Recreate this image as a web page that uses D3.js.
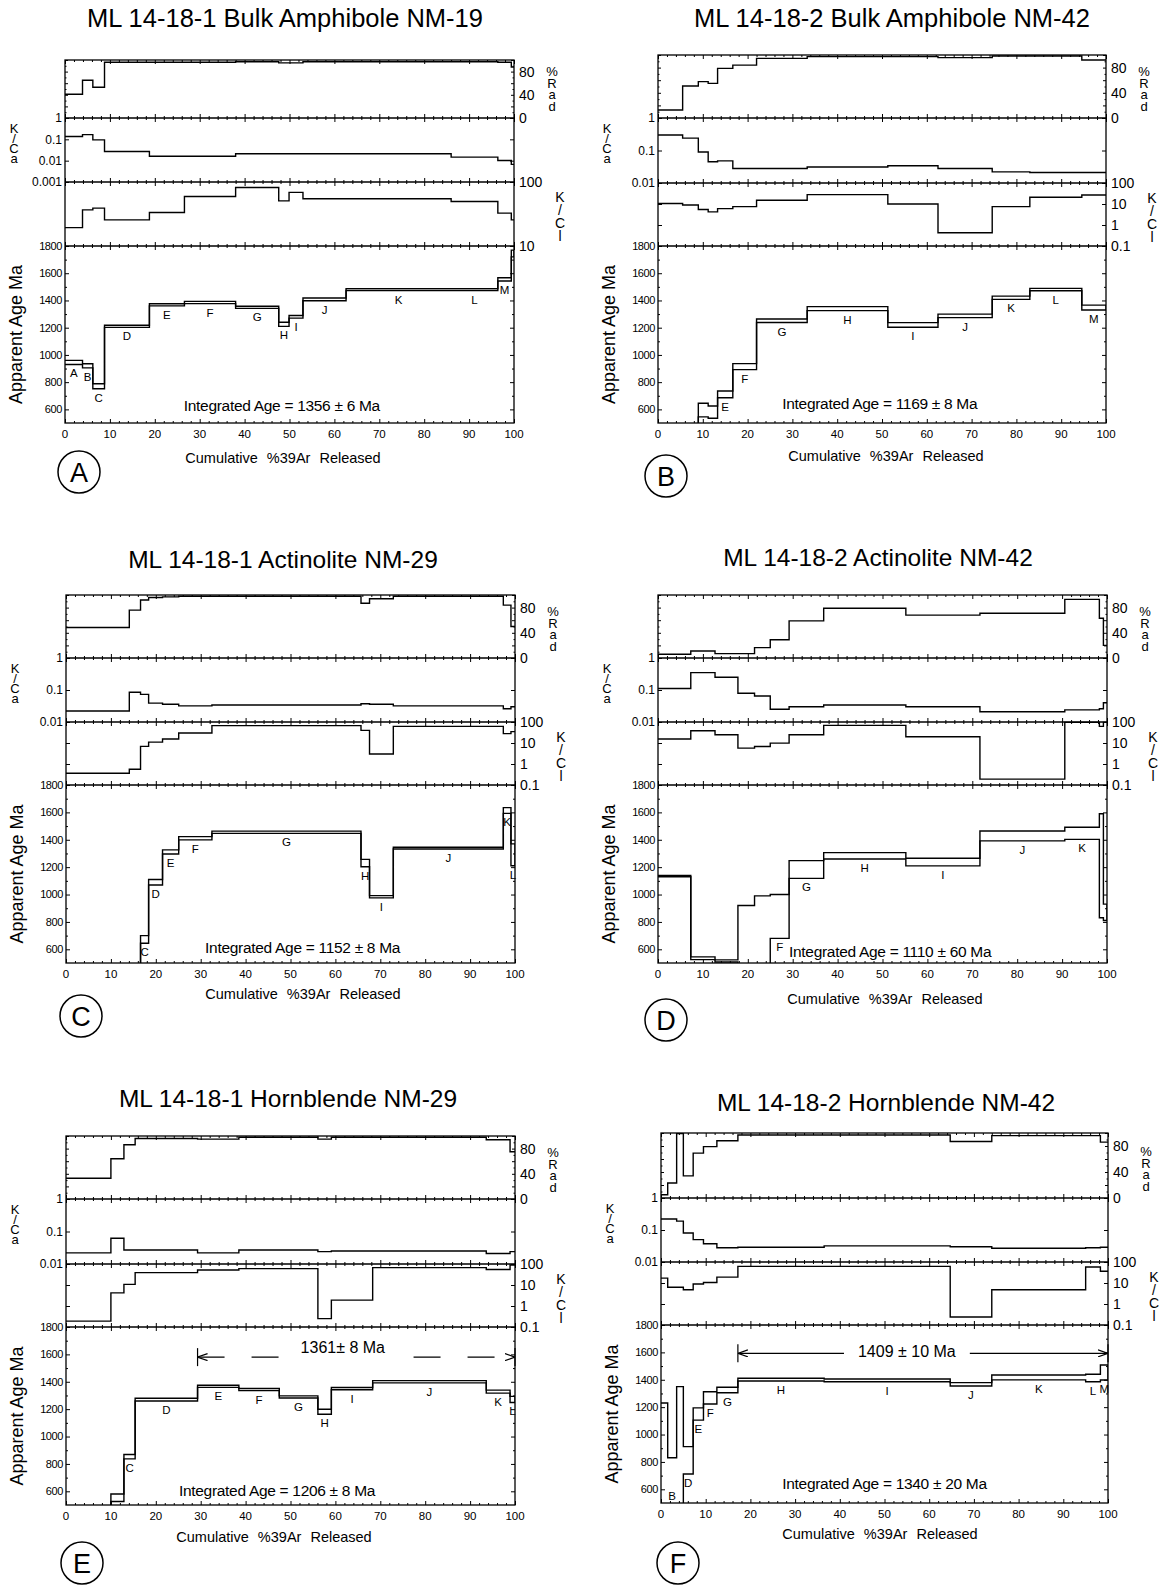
<!DOCTYPE html>
<html>
<head>
<meta charset="utf-8">
<style>
  body { margin: 0; background: #fff; }
  svg { display: block; font-family: "Liberation Sans", Arial, sans-serif; }
  .frame { fill: none; stroke: #000; stroke-width: 1.3; }
  .step { fill: none; stroke: #000; stroke-width: 1.4; }
  .tk line { stroke: #000; stroke-width: 1; }
  .vert { writing-mode: vertical-rl; text-orientation: upright; }
</style>
</head>
<body>
<svg id="chart" width="1169" height="1591"></svg>
<script src="https://d3js.org/d3.v7.min.js"></script>
<script>
// ---- data ----
// cum* = cumulative %39Ar step boundaries, one value per step for the rest

// A: ML 14-18-1 bulk amphibole
var cumA = [0, 3.9, 6.2, 8.8, 18.8, 26.6, 38.0, 47.6, 49.9, 53.0, 62.6, 86.0, 96.4, 99.4, 100];
var radA = [41, 65, 53, 96, 96, 96, 97, 95, 95, 97, 97, 97, 96, 88];
var kcaA = [0.135, 0.167, 0.094, 0.027, 0.016, 0.016, 0.021, 0.021, 0.021, 0.021, 0.021, 0.0147, 0.0101, 0.0067];
var kclA = [19.4, 36.7, 39, 25.6, 33.4, 59.5, 82, 50.8, 68.8, 54.8, 54.8, 49.7, 32.6, 25.6];
var ageA = [945, 920, 770, 1210, 1368, 1385, 1350, 1225, 1280, 1408, 1480, 1480, 1555, 1745];
var errA = [15, 15, 18, 8, 8, 8, 8, 15, 10, 10, 7, 7, 12, 25];
var letA = ["A", "B", "C", "D", "E", "F", "G", "H", "I", "J", "K", "L", "M", ""];

// B: ML 14-18-2 bulk amphibole
var cumB = [0, 5.5, 9.0, 11.2, 13.3, 16.7, 22.0, 33.3, 51.3, 62.5, 74.6, 83.0, 94.6, 100];
var radB = [12.7, 50.8, 57.7, 55, 78.8, 84, 94.7, 97.4, 97.4, 95.8, 98.4, 98.4, 92];
var kcaB = [0.30, 0.24, 0.09, 0.045, 0.048, 0.028, 0.028, 0.031, 0.034, 0.028, 0.022, 0.021, 0.021];
var kclB = [10.5, 9, 5.5, 4.2, 6.0, 7.5, 15, 28, 10, 0.43, 7.5, 21, 27];
var ageB = [400, 450, 595, 580, 710, 914, 1251, 1340, 1220, 1287, 1420, 1480, 1348];
var errB = [30, 30, 50, 45, 25, 22, 13, 15, 17, 13, 12, 9, 18];
var letB = ["", "", "", "", "E", "F", "G", "H", "I", "J", "K", "L", "M"];

// C: ML 14-18-1 actinolite
var cumC = [0, 14.1, 16.6, 18.4, 21.5, 25.1, 32.5, 65.7, 67.6, 72.9, 97.4, 99.1, 100];
var radC = [48.4, 76, 92, 96, 97, 98, 98, 87, 94, 98, 84, 50];
var kcaC = [0.022, 0.085, 0.073, 0.039, 0.036, 0.032, 0.034, 0.037, 0.036, 0.032, 0.026, 0.03];
var kclC = [0.36, 0.56, 6.9, 11, 15.4, 30, 67, 40, 3.0, 62, 28, 35];
var ageC = [380, 430, 672, 1090, 1311, 1411, 1455, 1230, 984, 1339, 1614, 1290];
var errC = [30, 30, 28, 20, 15, 12, 8, 27, 8, 6, 21, 80];
var letC = ["", "", "C", "D", "E", "F", "G", "H", "I", "J", "K", "L"];

// D: ML 14-18-2 actinolite
var cumD = [0, 7.3, 12.7, 17.8, 21.5, 25.0, 29.2, 36.9, 55.2, 71.7, 90.6, 98.3, 99.2, 100];
var radD = [5.9, 11.2, 7, 7, 16.5, 29, 59, 79, 68, 71, 93, 63, 20];
var kcaD = [0.112, 0.35, 0.25, 0.079, 0.065, 0.025, 0.030, 0.034, 0.030, 0.021, 0.024, 0.026, 0.040];
var kclD = [15.4, 38.5, 24.7, 5.7, 6.8, 9.9, 24.7, 69, 20, 0.19, 96, 62, 96];
var ageD = [1135, 535, 515, 600, 600, 840, 1183, 1283, 1237, 1428, 1447, 1210, 870];
var errD = [5, 10, 8, 320, 390, 160, 65, 23, 28, 36, 44, 380, 60];
var letD = ["", "", "", "", "", "F", "G", "H", "I", "J", "K", "", ""];

// E: ML 14-18-1 hornblende
var cumE = [0, 10.0, 12.9, 15.4, 29.3, 38.5, 47.5, 56.1, 59.1, 68.3, 93.6, 98.9, 100];
var radE = [33, 64, 86, 96, 95, 98, 98, 95, 98, 98, 94, 75];
var kcaE = [0.022, 0.062, 0.027, 0.027, 0.022, 0.027, 0.027, 0.024, 0.025, 0.025, 0.021, 0.024];
var kclE = [0.19, 4.2, 10.7, 38.7, 52, 60, 60, 0.25, 1.9, 67, 55, 90];
var ageE = [400, 553, 853, 1270, 1367, 1343, 1289, 1181, 1350, 1400, 1328, 1271];
var errE = [30, 27, 16, 10, 8, 8, 8, 18, 8, 8, 11, 22];
var letE = ["", "", "C", "D", "E", "F", "G", "H", "I", "J", "K", "L"];

// F: ML 14-18-2 hornblende
var cumF = [0, 1.5, 3.5, 5.0, 7.2, 9.5, 12.5, 17.2, 36.5, 64.7, 74.0, 95.0, 98.3, 100];
var radF = [5, 23, 99, 34, 69, 79, 88, 97, 97, 87, 96, 96, 86];
var kcaF = [0.22, 0.22, 0.19, 0.081, 0.05, 0.037, 0.028, 0.029, 0.032, 0.030, 0.027, 0.028, 0.029];
var kclF = [17, 6.3, 6.3, 4.8, 8.9, 10.6, 19, 62, 62, 0.24, 4.8, 58, 36];
var ageF = [700, 500, 800, 812, 1150, 1268, 1325, 1401, 1396, 1367, 1417, 1413, 1453];
var errF = [530, 330, 550, 100, 45, 45, 20, 10, 10, 12, 18, 27, 55];
var letF = ["", "B", "", "D", "E", "F", "G", "H", "I", "J", "K", "L", "M"];

// tick labels
var xTicks = [0, 10, 20, 30, 40, 50, 60, 70, 80, 90, 100];
var ageTicks = [1800, 1600, 1400, 1200, 1000, 800, 600];
var radTicks = [80, 40, 0];
var kcaTicks3 = [1, 0.1, 0.01, 0.001];
var kcaTicks2 = [1, 0.1, 0.01];
var kclTicks1 = [100, 10];
var kclTicks3 = [100, 10, 1, 0.1];

var titles = ["ML 14-18-1 Bulk Amphibole NM-19", "ML 14-18-2 Bulk Amphibole NM-42",
              "ML 14-18-1 Actinolite NM-29", "ML 14-18-2 Actinolite NM-42",
              "ML 14-18-1 Hornblende NM-29", "ML 14-18-2 Hornblende NM-42"];
var integrated = ["Integrated Age = 1356 \u00b1 6 Ma", "Integrated Age = 1169 \u00b1 8 Ma",
                  "Integrated Age = 1152 \u00b1 8 Ma", "Integrated Age = 1110 \u00b1 60 Ma",
                  "Integrated Age = 1206 \u00b1 8 Ma", "Integrated Age = 1340 \u00b1 20 Ma"];
// where the integrated-age note sits, in data units [%39Ar, Ma]
var integratedAt = [[48.3, 626], [49.5, 646], [52.7, 610], [51.7, 583], [47, 605], [50, 640]];
// plateau ages: [panel, from %, to %, age level, label]
var plateaus = [["E", 29.3, 100, 1580, "1361\u00b1 8 Ma"], ["F", 17.2, 100, 1593, "1409 \u00b1 10 Ma"]];

var panels = [
  {id: "A", cum: cumA, rad: radA, kca: kcaA, kcl: kclA, age: ageA, err: errA, lab: letA, kcaT: kcaTicks3, kclT: kclTicks1},
  {id: "B", cum: cumB, rad: radB, kca: kcaB, kcl: kclB, age: ageB, err: errB, lab: letB, kcaT: kcaTicks2, kclT: kclTicks3},
  {id: "C", cum: cumC, rad: radC, kca: kcaC, kcl: kclC, age: ageC, err: errC, lab: letC, kcaT: kcaTicks2, kclT: kclTicks3},
  {id: "D", cum: cumD, rad: radD, kca: kcaD, kcl: kclD, age: ageD, err: errD, lab: letD, kcaT: kcaTicks2, kclT: kclTicks3},
  {id: "E", cum: cumE, rad: radE, kca: kcaE, kcl: kclE, age: ageE, err: errE, lab: letE, kcaT: kcaTicks2, kclT: kclTicks3},
  {id: "F", cum: cumF, rad: radF, kca: kcaF, kcl: kclF, age: ageF, err: errF, lab: letF, kcaT: kcaTicks2, kclT: kclTicks3}
];

// page geometry for each panel
var layout = {
  A: {x0: 65, x1: 514, rad: 60, kca: 118, kcl: 182, age: 246, bot: 423, tx: 285, ty: 27, fs: 25.5, lx: 283, ly: 458, cx: 79, cy: 472},
  B: {x0: 658, x1: 1106, rad: 55, kca: 118, kcl: 183, age: 246, bot: 423, tx: 892, ty: 27, fs: 25.5, lx: 886, ly: 456, cx: 666, cy: 476},
  C: {x0: 66, x1: 515, rad: 595, kca: 658, kcl: 722, age: 785, bot: 963, tx: 283, ty: 568, fs: 24.5, lx: 303, ly: 994, cx: 81, cy: 1016},
  D: {x0: 658, x1: 1107, rad: 595, kca: 658, kcl: 722, age: 785, bot: 963, tx: 878, ty: 566, fs: 24.5, lx: 885, ly: 999, cx: 666, cy: 1020},
  E: {x0: 66, x1: 515, rad: 1136, kca: 1199, kcl: 1264, age: 1327, bot: 1505, tx: 288, ty: 1107, fs: 24.5, lx: 274, ly: 1537, cx: 82, cy: 1563},
  F: {x0: 661, x1: 1108, rad: 1133, kca: 1198, kcl: 1262, age: 1325, bot: 1503, tx: 886, ty: 1111, fs: 24.5, lx: 880, ly: 1534, cx: 678, cy: 1563}
};

var svg = d3.select("#chart");
var defs = svg.append("defs");
defs.append("marker").attr("id", "arrow")
    .attr("viewBox", "0 -4 10 8").attr("refX", 10).attr("refY", 0)
    .attr("markerWidth", 10).attr("markerHeight", 8)
    .attr("markerUnits", "userSpaceOnUse").attr("orient", "auto-start-reverse")
  .append("path").attr("d", "M0,-3.5L10,0L0,3.5").attr("fill", "none").attr("stroke", "#000").attr("stroke-width", 1.2);

function stepPts(cum, vals) {
  var pts = vals.map(function(v, i) { return [cum[i], v]; });
  pts.push([cum[cum.length - 1], vals[vals.length - 1]]);
  return pts;
}

function clipRect(id, x0, y0, x1, y1) {
  defs.append("clipPath").attr("id", id).append("rect")
      .attr("x", x0).attr("y", y0).attr("width", x1 - x0).attr("height", y1 - y0);
  return "url(#" + id + ")";
}

// small inward ticks on the top and bottom edge of a strip
function xEdgeTicks(g, x, yTop, yBot) {
  var minor = d3.range(0, 101, 2).filter(function(v) { return v % 10 !== 0; });
  [[yTop, d3.axisTop], [yBot, d3.axisBottom]].forEach(function(e) {
    g.append("g").attr("class", "tk").attr("transform", "translate(0," + e[0] + ")")
        .call(e[1](x).tickValues(xTicks).tickSize(-4).tickFormat(""))
        .call(function(s) { s.select(".domain").remove(); s.selectAll("text").remove(); });
    g.append("g").attr("class", "tk").attr("transform", "translate(0," + e[0] + ")")
        .call(e[1](x).tickValues(minor).tickSize(-2).tickFormat(""))
        .call(function(s) { s.select(".domain").remove(); s.selectAll("text").remove(); });
  });
}

function yEdgeTicks(g, y, vals, size, x0, x1) {
  g.append("g").attr("class", "tk").attr("transform", "translate(" + x0 + ",0)")
      .call(d3.axisLeft(y).tickValues(vals).tickSize(-size).tickFormat(""))
      .call(function(s) { s.select(".domain").remove(); s.selectAll("text").remove(); });
  g.append("g").attr("class", "tk").attr("transform", "translate(" + x1 + ",0)")
      .call(d3.axisRight(y).tickValues(vals).tickSize(-size).tickFormat(""))
      .call(function(s) { s.select(".domain").remove(); s.selectAll("text").remove(); });
}

// a word written one letter under the other
function stacked(g, word, x, y0, size, spacing) {
  g.append("text").attr("class", "vert").attr("x", x).attr("y", y0)
      .attr("font-size", size).attr("letter-spacing", spacing).text(word);
}

panels.forEach(function(p, k) {
  var L = layout[p.id];
  var g = svg.append("g");

  var x = d3.scaleLinear().domain([0, 100]).range([L.x0, L.x1]);
  var yRad = d3.scaleLinear().domain([0, 100]).range([L.kca, L.rad]);
  var yKca = d3.scaleLog().domain([p.kcaT[p.kcaT.length - 1], 1]).range([L.kcl, L.kca]);
  var yKcl = d3.scaleLog().domain([p.kclT[p.kclT.length - 1], 100]).range([L.age, L.kcl]);
  var yAge = d3.scaleLinear().domain([500, 1800]).range([L.bot, L.age]);

  // frame and strip separators
  g.append("rect").attr("class", "frame")
      .attr("x", L.x0).attr("y", L.rad).attr("width", L.x1 - L.x0).attr("height", L.bot - L.rad);
  [L.kca, L.kcl, L.age].forEach(function(yy) {
    g.append("line").attr("class", "frame").attr("x1", L.x0).attr("x2", L.x1).attr("y1", yy).attr("y2", yy);
  });

  // ticks
  [[L.rad, L.kca], [L.kca, L.kcl], [L.kcl, L.age], [L.age, L.bot]].forEach(function(s) {
    xEdgeTicks(g, x, s[0], s[1]);
  });
  yEdgeTicks(g, yRad, d3.range(0, 101, 20), 3, L.x0, L.x1);
  yEdgeTicks(g, yRad, d3.range(10, 100, 20), 1.5, L.x0, L.x1);
  yEdgeTicks(g, yKca, p.kcaT, 4, L.x0, L.x1);
  yEdgeTicks(g, yKcl, p.kclT, 4, L.x0, L.x1);
  yEdgeTicks(g, yAge, ageTicks, 4, L.x0, L.x1);
  yEdgeTicks(g, yAge, [1700, 1500, 1300, 1100, 900, 700], 2, L.x0, L.x1);

  // step curves for %Rad, K/Ca, K/Cl
  var strips = [[p.rad, yRad, L.rad, L.kca], [p.kca, yKca, L.kca, L.kcl], [p.kcl, yKcl, L.kcl, L.age]];
  strips.forEach(function(s, j) {
    var line = d3.line().x(function(d) { return x(d[0]); }).y(function(d) { return s[1](d[1]); })
        .curve(d3.curveStepAfter);
    g.append("path").attr("class", "step")
        .attr("clip-path", clipRect("c" + p.id + j, L.x0, s[2] - 1, L.x1, s[3] + 1))
        .attr("d", line(stepPts(p.cum, s[0])));
  });

  // age spectrum: upper and lower envelope of each step
  var ageLine = d3.line().x(function(d) { return x(d[0]); }).y(function(d) { return yAge(d[1]); })
      .curve(d3.curveStepAfter);
  var hi = p.age.map(function(a, i) { return a + p.err[i]; });
  var lo = p.age.map(function(a, i) { return a - p.err[i]; });
  var ag = g.append("g").attr("clip-path", clipRect("c" + p.id + "age", L.x0, L.age, L.x1, L.bot));
  ag.append("path").attr("class", "step").attr("d", ageLine(stepPts(p.cum, hi)));
  ag.append("path").attr("class", "step").attr("d", ageLine(stepPts(p.cum, lo)));
  var n = p.age.length;
  ag.append("line").attr("class", "step")
      .attr("x1", x(p.cum[n])).attr("x2", x(p.cum[n]))
      .attr("y1", yAge(hi[n - 1])).attr("y2", yAge(lo[n - 1]));

  // step letters
  p.lab.forEach(function(ch, i) {
    if (!ch) return;
    var yy = Math.min(yAge(lo[i]) + 9, L.bot - 7);
    g.append("text").attr("x", x((p.cum[i] + p.cum[i + 1]) / 2)).attr("y", yy)
        .attr("dy", "0.35em").attr("text-anchor", "middle").attr("font-size", 11.5).text(ch);
  });

  // integrated age
  g.append("text").attr("x", x(integratedAt[k][0])).attr("y", yAge(integratedAt[k][1]))
      .attr("dy", "0.35em").attr("text-anchor", "middle").attr("font-size", 15.5)
      .attr("letter-spacing", -0.3).text(integrated[k]);

  // plateau
  plateaus.filter(function(pl) { return pl[0] === p.id; }).forEach(function(pl) {
    var yl = yAge(pl[3]);
    var dashed = p.id === "E";
    var pg = g.append("g");
    pg.append("line").attr("stroke", "#000").attr("stroke-width", 1.2)
        .attr("stroke-dasharray", dashed ? "27,27" : null)
        .attr("x1", x(pl[1])).attr("x2", x(pl[2])).attr("y1", yl).attr("y2", yl)
        .attr("marker-start", "url(#arrow)").attr("marker-end", "url(#arrow)");
    [pl[1], pl[2]].forEach(function(v) {
      pg.append("line").attr("stroke", "#000").attr("stroke-width", 1.2)
          .attr("x1", x(v)).attr("x2", x(v)).attr("y1", yl - 9).attr("y2", yl + 9);
    });
    var mid = (pl[1] + pl[2]) / 2 + (dashed ? -3 : -3.6);
    var mask = pg.append("rect").attr("fill", "#fff");
    var t = pg.append("text").attr("x", x(mid)).attr("y", yl - (dashed ? 10 : 2))
        .attr("dy", "0.35em").attr("text-anchor", "middle").attr("font-size", 16).text(pl[4]);
    var bb = t.node().getBBox();
    mask.attr("x", bb.x - 14).attr("y", yl - 2).attr("width", bb.width + 28).attr("height", 4);
  });

  // tick labels
  g.selectAll(".xl").data(xTicks).enter().append("text")
      .attr("x", function(d) { return x(d); }).attr("y", L.bot + 11).attr("dy", "0.35em")
      .attr("text-anchor", "middle").attr("font-size", 11.5).text(function(d) { return d; });
  g.selectAll(".al").data(ageTicks).enter().append("text")
      .attr("x", L.x0 - 3).attr("y", function(d) { return yAge(d); }).attr("dy", "0.35em")
      .attr("text-anchor", "end").attr("font-size", 11).attr("letter-spacing", -0.4)
      .text(function(d) { return d; });
  g.selectAll(".kl").data(p.kcaT).enter().append("text")
      .attr("x", L.x0 - 3).attr("y", function(d) { return yKca(d); }).attr("dy", "0.35em")
      .attr("text-anchor", "end").attr("font-size", 12).text(function(d) { return d; });
  g.selectAll(".rl").data(radTicks).enter().append("text")
      .attr("x", L.x1 + 5).attr("y", function(d) { return yRad(d); }).attr("dy", "0.35em")
      .attr("font-size", 14).text(function(d) { return d; });
  g.selectAll(".cl").data(p.kclT).enter().append("text")
      .attr("x", L.x1 + 5).attr("y", function(d) { return yKcl(d); }).attr("dy", "0.35em")
      .attr("font-size", 14).text(function(d) { return d; });

  // axis names
  g.append("text").attr("transform", "translate(" + (L.x0 - 43) + "," + ((L.age + L.bot) / 2) + ") rotate(-90)")
      .attr("text-anchor", "middle").attr("font-size", 18).text("Apparent Age Ma");
  stacked(g, "K/Ca", L.x0 - 51, L.kca + 3, 13, -5);
  stacked(g, "%Rad", L.x1 + 38, L.kca - 54, 13, -3.5);
  stacked(g, "K/Cl", L.x1 + 46, L.kcl + 7, 14, -3);
  g.append("text").attr("x", L.lx).attr("y", L.ly).attr("dy", "0.35em").attr("text-anchor", "middle")
      .attr("font-size", 14.5).attr("word-spacing", 5).text("Cumulative %39Ar Released");

  // title and panel letter
  g.append("text").attr("x", L.tx).attr("y", L.ty).attr("text-anchor", "middle")
      .attr("font-size", L.fs).text(titles[k]);
  g.append("circle").attr("cx", L.cx).attr("cy", L.cy).attr("r", 21)
      .attr("fill", "none").attr("stroke", "#000").attr("stroke-width", 1.5);
  g.append("text").attr("x", L.cx).attr("y", L.cy).attr("dy", "0.36em").attr("text-anchor", "middle")
      .attr("font-size", 27).text(p.id);
});
</script>
</body>
</html>
